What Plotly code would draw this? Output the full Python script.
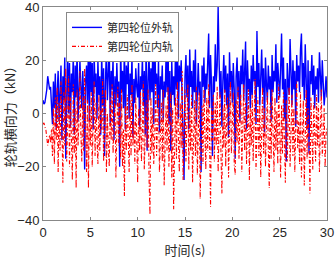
import numpy as np
import plotly.graph_objects as go

t = [round(i * 0.1, 1) for i in range(301)]

outer = [
    5, 3.5, 4, 6, 9, 14, 11, 9, 10, 3,
    -4, 12, 2, 15, -6, 8, 16, -3, 10, 18,
    -10, 14, 5, 21, -17, 12, 26, 0, 19, -5,
    15, 8, 22, -8, 18, 6, 24, -3, 12, 20,
    10, 2, 16, 6, -21, 12, 18, 4, 26, -3,
    26, 8, 19, -6, 22, 10, 15, -2, 20, 7,
    14, -8, 23, 3, 17, -16, 12, 25, 5, 18,
    25, -4, 16, 9, 21, -10, 14, 3, 19, 6,
    12, -20, 25, 8, 16, 2, 26, -6, 18, 11,
    20, -2, 15, 7, 22, -9, 13, 4, 17, 10,
    6, 19, -5, 14, 9, 21, 3, 16, -8, 30,
    -14, 12, 22, 5, 17, 8, 24, -4, 30, 11,
    15, 2, 20, -7, 14, 9, 18, -3, 12, 6,
    22, 8, 31, -4, 16, -14, 20, 7, 14, 3,
    25, 9, 31, -2, 18, 12, 20, 5, -10, -25,
    14, 22, 6, 18, -6, 24, 10, 16, 2, 20,
    8, 24, -4, 14, 19, 7, 12, -22, 18, 10,
    21, 4, 15, 9, 17, 30, 2, 22, 11, -16,
    14, 8, 26, 12, 18, 40, 20, 6, 16, -5,
    12, 22, 8, 18, 3, 15, -9, 23, 10, 16,
    4, 19, 9, -17, 14, 21, 6, 16, -3, 18,
    11, 24, 5, 15, 27, -6, 20, 9, 13, 2,
    18, 7, 22, 12, 16, -4, 31, 10, 19, 3,
    15, 24, 8, 17, -7, 21, 11, 5, 18, 9,
    14, -3, 22, 8, 16, 12, 26, 4, 19, 10,
    6, 17, 30, 9, 21, -2, 13, -18, 19, 11,
    7, 28, 14, 3, 20, 9, 16, -5, 22, 12,
    18, 8, 24, 30, 10, 19, 5, 26, 13, -6,
    20, -15, 16, 11, 22, 7, 18, 2, 14, 9,
    17, 4, 23, 10, 6, 20, 12, 3, 8, 14, 6,
]

inner = [
    -4, -3.5, -5, -6, -9, -12, -10, -8, -11, -6,
    -16, 2, -19, 6, -10, 10, -22, 4, -14, 12,
    -5, -26, 8, -12, 17, -18, -4, 14, -20, 6,
    -9, -25, 11, -15, 2, -28, 9, -12, -3, 16,
    -8, -18, 6, -14, 17, -10, -22, 5, -28, 3,
    -12, 8, -20, -2, 12, -16, 4, -9, -19, 7,
    -14, 2, -6, 13, -18, -8, 9, -22, 0, -13,
    -20, 6, -10, 11, -15, -4, 8, -24, -2, 10,
    -12, 4, -17, 9, -20, -6, -31, 3, -14, 7,
    -9, -22, 5, -16, 11, -12, -3, -19, 6, -10,
    -26, 2, -14, 8, -18, -7, 12, -21, -4, 5,
    -13, 9, -24, -38, 6, -15, 2, -19, -8, 11,
    -16, -3, 7, -22, -10, 4, -18, 9, -27, -6,
    3, -14, 10, -20, -5, 8, -24, 2, -36, -11,
    6, -17, 12, -9, -22, 4, -13, 16, -25, -6,
    9, -18, -3, 11, -21, 2, -14, 7, -26, -8,
    5, -16, 10, -23, -4, 8, -32, -12, 3, -19,
    9, -7, -21, 6, -14, 11, -24, -35, 2, -10,
    7, -18, 4, -12, 10, -22, -6, 8, -16, -30,
    3, -13, 9, -20, -2, 6, -24, -9, 12, -15,
    -4, 8, -19, -23, 5, -11, 10, -17, -2, 7,
    -22, -6, 11, -14, 4, -19, -8, 9, -25, 2,
    -12, 7, -18, -3, 13, -21, -9, 6, -16, 3,
    -24, -7, 10, -15, 2, -20, -5, 8, -13, -28,
    4, -17, 9, -10, -22, 6, -14, 1, -19, 11,
    -8, -24, 3, -15, 8, -11, -26, 5, -18, -4,
    10, -20, -6, 7, -16, 2, -22, -9, 12, -13,
    -3, -19, 8, -24, -7, 5, -27, -12, 9, -17,
    2, -10, -30, 6, -14, -21, 4, -8, -18, 7,
    -12, 3, -22, -6, 9, -16, -10, 2, -20, -8, -5,
]

x_ticks = [0, 5, 10, 15, 20, 25, 30]
y_ticks = [-40, -20, 0, 20, 40]

fig = go.Figure()
fig.add_trace(go.Scatter(x=t, y=outer, mode="lines", name="第四轮位外轨",
                         line=dict(color="#0000FF", width=1.4)))
fig.add_trace(go.Scatter(x=t, y=inner, mode="lines", name="第四轮位内轨",
                         line=dict(color="#FF0000", width=1.1, dash="4px,2px,1px,2px")))

axis_common = dict(showline=True, linecolor="#888888", linewidth=1, mirror="ticks",
                   ticks="inside", ticklen=3, tickcolor="#888888", showgrid=False,
                   zeroline=False, automargin=False, ticklabeloverflow="allow",
                   tickfont=dict(family="Arial, Liberation Sans", size=13, color="#262626"))

fig.update_layout(
    width=335, height=261,
    margin=dict(l=43, r=8, t=7, b=41),
    paper_bgcolor="white", plot_bgcolor="white",
    showlegend=True,
    legend=dict(x=0.081, y=0.977, xanchor="left", yanchor="top",
                bgcolor="white", bordercolor="#888888", borderwidth=1,
                font=dict(family="Noto Sans CJK SC", size=11, color="#262626"),
                tracegroupgap=0, itemwidth=30),
    xaxis=dict(range=[0, 30], tickvals=x_ticks,
               title=dict(text="时间(s)", standoff=4,
                          font=dict(family="Noto Sans CJK SC", size=13, color="#262626")),
               **axis_common),
    yaxis=dict(range=[-40, 40], tickvals=y_ticks,
               title=dict(text="轮轨横向力（kN）", standoff=2,
                          font=dict(family="Noto Sans CJK SC", size=13, color="#262626")),
               **axis_common),
)

fig.write_html("out.html", config={"displayModeBar": False},
               post_script="document.body.style.margin='0px';document.body.style.overflow='hidden';")
